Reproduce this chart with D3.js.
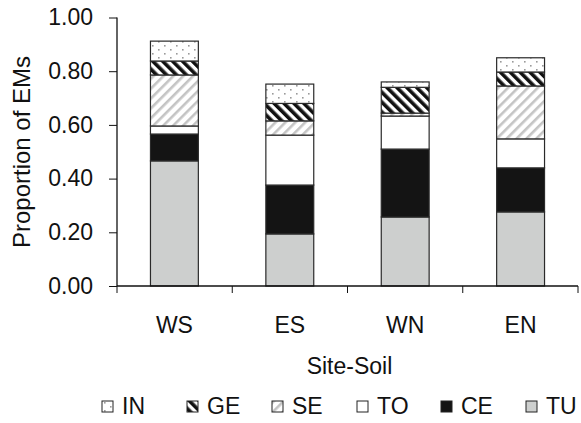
<!DOCTYPE html>
<html><head><meta charset="utf-8">
<script src="https://cdn.jsdelivr.net/npm/d3@7"></script>
<style>body{margin:0;background:#fff}svg{display:block}text{font-family:"Liberation Sans",Arial,sans-serif;fill:#111}</style>
</head><body><svg id="c" width="581" height="423"></svg>
<script>
const categories = ["WS","ES","WN","EN"];
const seriesNames = ["TU","CE","TO","SE","GE","IN"];
const TU = [0.466,0.194,0.257,0.276];
const CE = [0.100,0.182,0.253,0.164];
const TO = [0.030,0.186,0.123,0.108];
const SE = [0.190,0.053,0.011,0.197];
const GE = [0.052,0.065,0.096,0.052];
const IN = [0.074,0.072,0.020,0.053];
const yTicks = [0,0.2,0.4,0.6,0.8,1.0];
const legendOrder = ["IN","GE","SE","TO","CE","TU"];

const vals = {TU,CE,TO,SE,GE,IN};
const svg = d3.select("#c");
const defs = svg.append("defs");
// patterns
let p = defs.append("pattern").attr("id","pIN").attr("patternUnits","userSpaceOnUse").attr("width",12).attr("height",8);
p.append("rect").attr("width",12).attr("height",8).attr("fill","#fff");
p.append("rect").attr("x",2).attr("y",1).attr("width",1.6).attr("height",1.6).attr("fill","#9a9a9a");
p.append("rect").attr("x",8).attr("y",5).attr("width",1.6).attr("height",1.6).attr("fill","#9a9a9a");
p = defs.append("pattern").attr("id","pGE").attr("patternUnits","userSpaceOnUse").attr("width",7).attr("height",7).attr("patternTransform","rotate(-45)");
p.append("rect").attr("width",7).attr("height",7).attr("fill","#fff");
p.append("rect").attr("x",0).attr("width",3.6).attr("height",7).attr("fill","#111");
p = defs.append("pattern").attr("id","pSE").attr("patternUnits","userSpaceOnUse").attr("width",7).attr("height",7).attr("patternTransform","rotate(45)");
p.append("rect").attr("width",7).attr("height",7).attr("fill","#fff");
p.append("rect").attr("x",0).attr("width",2.6).attr("height",7).attr("fill","#c4c4c4");

const fills = {TU:"#cdcfce",CE:"#141414",TO:"#fff",SE:"url(#pSE)",GE:"url(#pGE)",IN:"url(#pIN)"};

const m = {l:117,r:578,t:17.5,b:286};
const x = d3.scaleBand().domain(categories).range([m.l,m.r]).paddingInner(0.585).paddingOuter(0.29);
const y = d3.scaleLinear().domain([0,1]).range([m.b,m.t]);

const table = categories.map((c,i)=>{const o={cat:c};seriesNames.forEach(s=>o[s]=vals[s][i]);return o;});
const stacked = d3.stack().keys(seriesNames)(table);

svg.append("g").selectAll("g").data(stacked).join("g")
  .attr("fill",d=>fills[d.key])
  .selectAll("rect").data(d=>d).join("rect")
  .attr("x",d=>x(d.data.cat)).attr("width",x.bandwidth())
  .attr("y",d=>y(d[1])).attr("height",d=>y(d[0])-y(d[1]))
  .attr("stroke","#2a2a2a").attr("stroke-width",1.2);

const FS = 23;
// y axis
const ya = svg.append("g").attr("transform",`translate(${m.l},0)`)
  .call(d3.axisLeft(y).tickValues(yTicks).tickFormat(d3.format(".2f")).tickSize(8).tickPadding(16));
ya.select(".domain").attr("d",`M0,${m.t}V${m.b}`).attr("stroke","#111").attr("stroke-width",1.3);
ya.selectAll(".tick line").attr("stroke","#111");
ya.selectAll("text").attr("font-size",FS).attr("fill","#111").style("font-family","Liberation Sans, Arial, sans-serif");

// x axis line & boundary ticks
const bounds = d3.range(categories.length+1).map(i=>m.l + i*(m.r-m.l)/categories.length);
svg.append("line").attr("x1",m.l).attr("x2",m.r).attr("y1",m.b).attr("y2",m.b).attr("stroke","#111").attr("stroke-width",1.3);
svg.append("g").selectAll("line").data(bounds).join("line")
  .attr("x1",d=>d).attr("x2",d=>d).attr("y1",m.b).attr("y2",m.b+7).attr("stroke","#111");
svg.append("g").selectAll("text").data(categories).join("text")
  .attr("x",d=>x(d)+x.bandwidth()/2).attr("y",333).attr("text-anchor","middle").attr("font-size",FS).text(d=>d);

svg.append("text").attr("x",(m.l+m.r)/2+2).attr("y",374).attr("text-anchor","middle").attr("font-size",FS).text("Site-Soil");
svg.append("text").attr("transform","translate(30,152) rotate(-90)").attr("text-anchor","middle").attr("font-size",24).text("Proportion of EMs");

// legend
const lx = [102,187,272,357,441,526];
const lg = svg.append("g").selectAll("g").data(legendOrder).join("g")
  .attr("transform",(d,i)=>`translate(${lx[i]},401)`);
lg.append("rect").attr("width",11).attr("height",11).attr("fill",d=>fills[d]).attr("stroke","#222").attr("stroke-width",1);
lg.append("text").attr("x",20).attr("y",13).attr("font-size",FS).text(d=>d);
</script></body></html>
